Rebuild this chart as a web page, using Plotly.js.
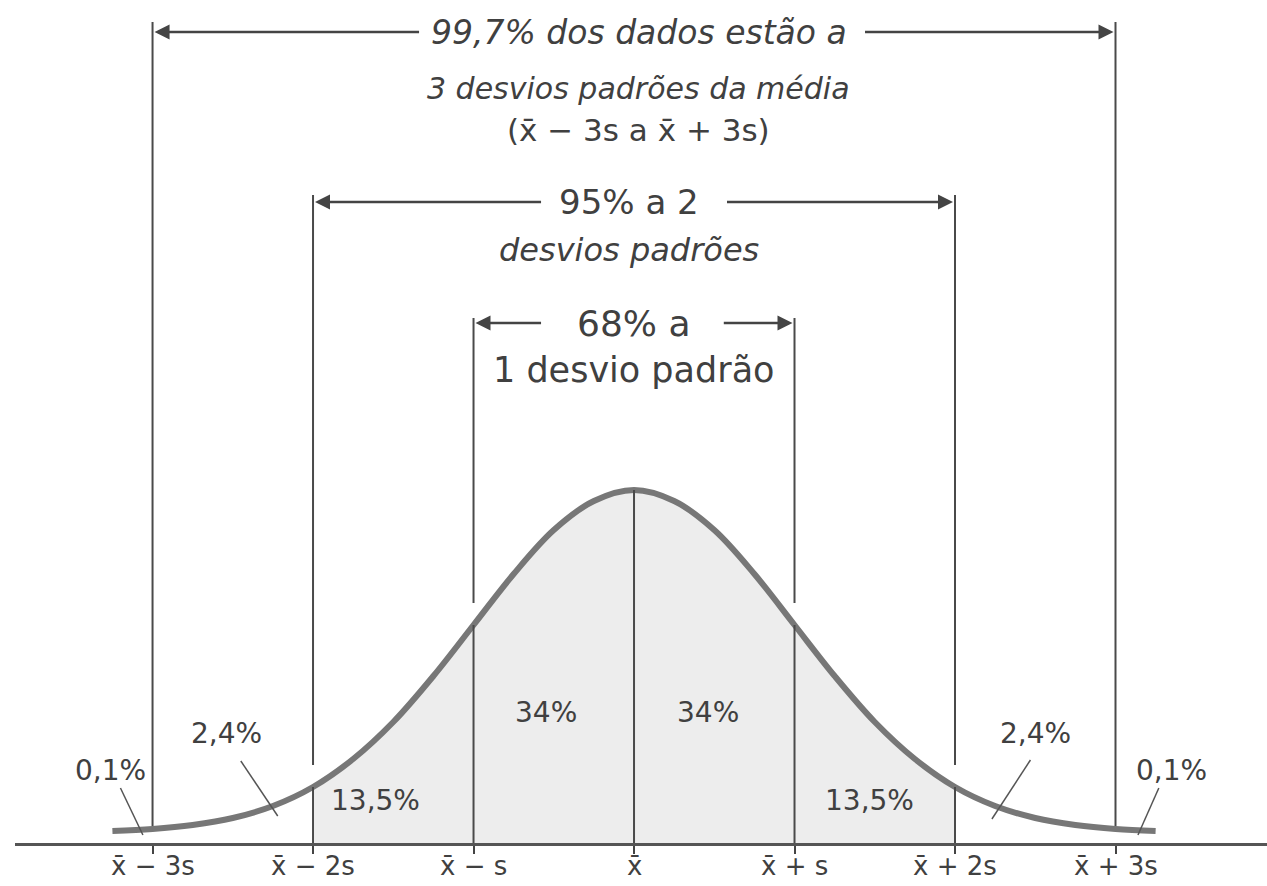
<!DOCTYPE html>
<html>
<head>
<meta charset="utf-8">
<script src="https://cdn.plot.ly/plotly-3.0.1.min.js"></script>
<style>
  html, body { margin: 0; padding: 0; background: #fff; }
  #plot { width: 1267px; height: 886px; }
</style>
</head>
<body>
<div id="plot"></div>
<script>
// curve height (px above the baseline), in standard deviations
let curveZ = [-3.25, -3, -2.75, -2.5, -2.25, -2, -1.75, -1.5, -1.25, -1, -0.75, -0.5, -0.25, 0,
  0.25, 0.5, 0.75, 1, 1.25, 1.5, 1.75, 2, 2.25, 2.5, 2.75, 3, 3.25];
let curveH = [12, 14, 18, 25, 37, 56, 84, 121, 167, 218, 269, 313, 342, 353,
  342, 313, 269, 218, 167, 121, 84, 56, 37, 25, 18, 14, 12];

let sigmaPos = [-3, -2, -1, 0, 1, 2, 3];
let tickLabels = ["x\u0304 \u2212 3s", "x\u0304 \u2212 2s", "x\u0304 \u2212 s", "x\u0304",
  "x\u0304 + s", "x\u0304 + 2s", "x\u0304 + 3s"];

let regionLabels = ["0,1%", "2,4%", "13,5%", "34%", "34%", "13,5%", "2,4%", "0,1%"];

let rangeTexts = [
  ["99,7% dos dados estão a", "3 desvios padrões da média", "(x\u0304 \u2212 3s a x\u0304 + 3s)"],
  ["95% a 2", "desvios padrões"],
  ["68% a", "1 desvio padrão"]
];

// shaded part: the points between -2s and +2s
let shadeZ = curveZ.filter(z => z >= -2 && z <= 2);
let shadeH = curveH.filter((h, i) => curveZ[i] >= -2 && curveZ[i] <= 2);

function heightAt(z) {
  return curveH[curveZ.indexOf(z)];
}

const ink = "#404040";
const font = "DejaVu Sans";

let traces = [
  {
    x: shadeZ, y: shadeH,
    mode: "lines",
    line: { width: 0, shape: "spline" },
    fill: "tozeroy",
    fillcolor: "#ededed",
    hoverinfo: "skip"
  },
  {
    x: curveZ, y: curveH,
    mode: "lines",
    line: { color: "#777", width: 6, shape: "spline" },
    hoverinfo: "skip"
  }
];

let shapes = [];
function vline(x, y0, y1) {
  shapes.push({ type: "line", xref: "x", yref: "y", x0: x, x1: x, y0: y0, y1: y1,
    line: { color: "#4a4a4a", width: 2 } });
}
// top of each guide line, px above baseline
let lineTop = { 3: 821, 2: 648, 1: 525 };
sigmaPos.forEach(z => {
  let a = Math.abs(z);
  let h = heightAt(z);
  if (a === 0) {
    vline(z, 0, h);
  } else if (a === 3) {
    vline(z, h + 3, lineTop[a]);
  } else {
    vline(z, lineTop[a], h + 22);
    vline(z, 0, h);
  }
});

// leader lines for the small tail areas
[[-3.20, 55, -3.06, 8], [-2.45, 82, -2.22, 27], [2.47, 83, 2.23, 24], [3.27, 55, 3.14, 8]]
  .forEach(p => shapes.push({ type: "line", xref: "x", yref: "y", x0: p[0], y0: p[1], x1: p[2], y1: p[3],
    line: { color: "#555", width: 1.5 } }));

let annotations = [];
function label(text, x, y, size, italic) {
  annotations.push({ x: x, y: y, xref: "x", yref: "y", text: text, showarrow: false,
    font: { family: font, size: size, color: ink, style: italic ? "italic" : "normal" } });
}
function arrow(tail, tip, y) {
  annotations.push({ x: tip, y: y, ax: tail, ay: y, xref: "x", yref: "y", axref: "x", ayref: "y",
    text: "", showarrow: true, arrowhead: 2, arrowsize: 1.2, arrowwidth: 2.5, arrowcolor: "#444",
    standoff: 2 });
}

// 99,7% block
label(rangeTexts[0][0], 0.03, 811, 33, true);
label(rangeTexts[0][1], 0.03, 755, 30, true);
label(rangeTexts[0][2], 0.03, 713, 31, false);
arrow(-1.33, -3, 811);
arrow(1.43, 3, 811);
// 95% block
label(rangeTexts[1][0], -0.03, 641, 34, false);
label(rangeTexts[1][1], -0.03, 593, 32, true);
arrow(-0.57, -2, 641);
arrow(0.57, 2, 641);
// 68% block
label(rangeTexts[2][0], 0.0, 520, 36, false);
label(rangeTexts[2][1], 0.0, 473, 35, false);
arrow(-0.57, -1, 520);
arrow(0.55, 1, 520);

// area percentages
let labelPos = [[-3.26, 73], [-2.54, 110], [-1.61, 43], [-0.55, 131], [0.46, 131], [1.47, 43], [2.50, 110], [3.35, 73]];
regionLabels.forEach((t, i) => label(t, labelPos[i][0], labelPos[i][1], 28, false));

// tick labels under the axis, set as annotations so they sit close to the ticks
sigmaPos.forEach((z, i) => annotations.push({
  x: z, y: 0, xref: "x", yref: "y", yanchor: "top", yshift: -7, borderpad: 0,
  text: tickLabels[i], showarrow: false,
  font: { family: font, size: 26, color: ink }
}));

let layout = {
  width: 1267,
  height: 886,
  margin: { l: 15, r: 0, t: 0, b: 43 },
  paper_bgcolor: "#fff",
  plot_bgcolor: "#fff",
  showlegend: false,
  xaxis: {
    range: [-3.857, 3.944],
    showgrid: false,
    zeroline: false,
    showline: true,
    linecolor: "#555",
    linewidth: 3,
    tickmode: "array",
    tickvals: sigmaPos,
    showticklabels: false,
    ticks: "outside",
    ticklen: 8,
    tickwidth: 2,
    tickcolor: "#444",
    fixedrange: true
  },
  yaxis: {
    range: [0, 843],
    visible: false,
    fixedrange: true
  },
  shapes: shapes,
  annotations: annotations
};

Plotly.newPlot("plot", traces, layout, { staticPlot: true });
</script>
</body>
</html>
